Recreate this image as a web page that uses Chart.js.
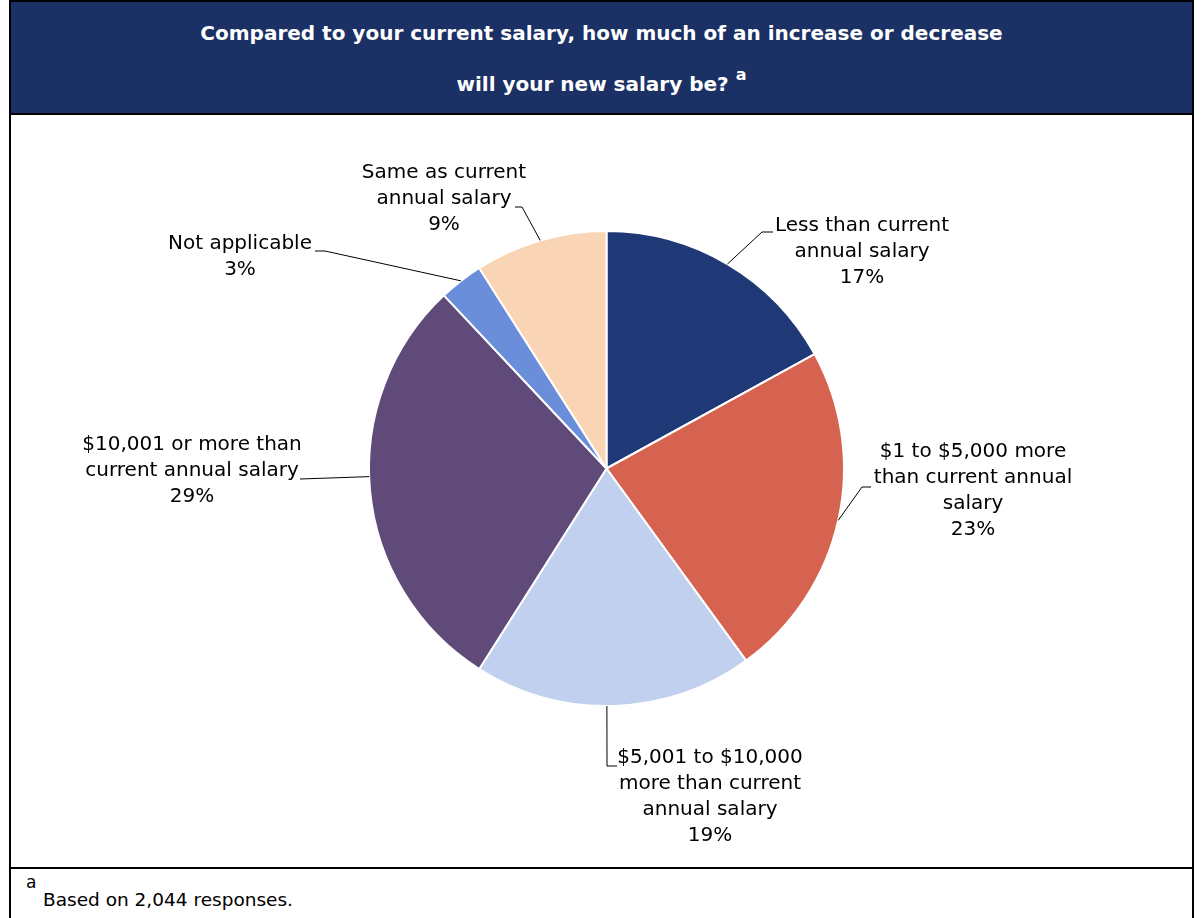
<!DOCTYPE html>
<html>
<head>
<meta charset="utf-8">
<script src="https://cdn.jsdelivr.net/npm/chart.js@4"></script>
<style>
  html, body { margin: 0; padding: 0; background: #fff; }
  body { width: 1204px; height: 918px; position: relative; overflow: hidden; font-family: "DejaVu Sans", sans-serif; }
  .frame { position: absolute; left: 9px; top: 0; width: 1181px; height: 940px; border: 2px solid #000; }
  .head { position: absolute; left: 0; top: 0; width: 100%; height: 111px; background: #1b3065; border-bottom: 2px solid #000;
          color: #fff; font-weight: bold; font-size: 20px; text-align: center; }
  .head .l1 { position: absolute; left: 0; right: 0; top: 19px; }
  .head .l2 { position: absolute; left: 0; right: 0; top: 66px; }
  .head sup { font-size: 16px; position: relative; top: -3px; }
  .foot { position: absolute; left: 0; top: 865px; width: 100%; height: 80px; border-top: 2px solid #000; font-size: 18.5px; color: #000; }
  .foot span { position: absolute; left: 32px; top: 20px; }
  .foot sup { position: absolute; left: 15px; top: 3px; font-size: 17px; }
  canvas { position: absolute; left: 0; top: 0; }
</style>
</head>
<body>
<div class="frame">
  <div class="head">
    <div class="l1">Compared to your current salary, how much of an increase or decrease</div>
    <div class="l2">will your new salary be? <sup>a</sup></div>
  </div>
  <div class="foot"><sup>a</sup><span>Based on 2,044 responses.</span></div>
</div>
<canvas id="pie" width="1204" height="918"></canvas>
<script>
const categories = [
  ['Less than current', 'annual salary'],
  ['$1 to $5,000 more', 'than current annual', 'salary'],
  ['$5,001 to $10,000', 'more than current', 'annual salary'],
  ['$10,001 or more than', 'current annual salary'],
  ['Not applicable'],
  ['Same as current', 'annual salary']
];
const shares = [17, 23, 19, 29, 3, 9];
const sliceColors = ['#1f3977', '#d6634f', '#c1d0ee', '#5f4a7a', '#6b8edb', '#fad5b5'];

// where each callout sits: text centre, first line y, stub end, elbow
const callouts = [
  { cx: 862, y: 226, hx: 773, ex: 762, ey: 232 },
  { cx: 973, y: 452, hx: 871, ex: 862, ey: 487 },
  { cx: 710, y: 758, hx: 617, ex: 607, ey: 766, nearest: true },
  { cx: 192, y: 445, hx: 300, ex: 300, ey: 479, nearest: true },
  { cx: 240, y: 244, hx: 315, ex: 325, ey: 251 },
  { cx: 444, y: 173, hx: 515, ex: 522, ey: 207 }
];

const calloutPlugin = {
  id: 'callouts',
  afterDraw(chart) {
    const ctx = chart.ctx;
    const arcs = chart.getDatasetMeta(0).data;
    ctx.save();
    ctx.font = '20px "DejaVu Sans", sans-serif';
    ctx.fillStyle = '#000';
    ctx.strokeStyle = '#000';
    ctx.lineWidth = 1;
    ctx.textAlign = 'center';
    ctx.textBaseline = 'middle';
    arcs.forEach((arc, i) => {
      const c = callouts[i];
      const p = arc.getProps(['x', 'y', 'startAngle', 'endAngle', 'outerRadius'], true);
      let a = (p.startAngle + p.endAngle) / 2;
      if (c.nearest) {
        a = Math.atan2(c.ey - p.y, c.ex - p.x);
        while (a < p.startAngle) a += Math.PI * 2;
        a = Math.min(Math.max(a, p.startAngle), p.endAngle);
      }
      const ax = p.x + Math.cos(a) * p.outerRadius;
      const ay = p.y + Math.sin(a) * p.outerRadius;
      ctx.beginPath();
      ctx.moveTo(ax, ay);
      ctx.lineTo(c.ex, c.ey);
      ctx.lineTo(c.hx, c.ey);
      ctx.stroke();
      const lines = categories[i].concat([shares[i] + '%']);
      lines.forEach((t, k) => ctx.fillText(t, c.cx, c.y + k * 26));
    });
    ctx.restore();
  }
};

new Chart(document.getElementById('pie'), {
  type: 'pie',
  data: {
    labels: categories.map(l => l.join(' ')),
    datasets: [{
      data: shares,
      backgroundColor: sliceColors,
      borderColor: '#fff',
      borderWidth: 2
    }]
  },
  options: {
    responsive: false,
    devicePixelRatio: 1,
    animation: false,
    layout: { padding: { left: 368, right: 359, top: 230, bottom: 211 } },
    plugins: { legend: { display: false }, tooltip: { enabled: false } }
  },
  plugins: [calloutPlugin]
});
</script>
</body>
</html>
